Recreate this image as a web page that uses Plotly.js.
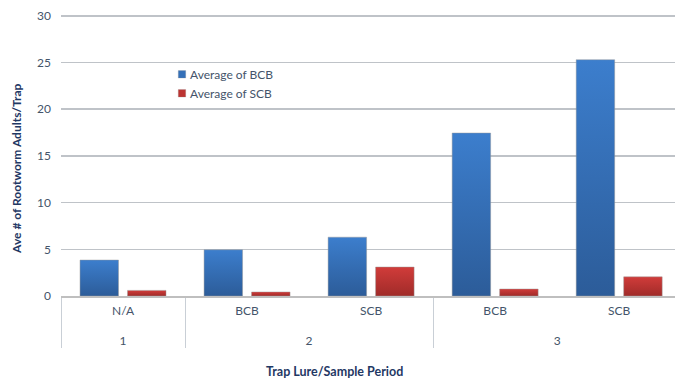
<!DOCTYPE html>
<html>
<head>
<meta charset="utf-8">
<script src="https://cdn.plot.ly/plotly-3.0.1.min.js"></script>
<style>
  html, body { margin: 0; padding: 0; background: #ffffff; }
  #chart { width: 675px; height: 379px; }
</style>
</head>
<body>
<div id="chart"></div>
<script>
// Sample period (outer level) and trap lure (inner level) for each category
const samplePeriods = ["1", "2", "2", "3", "3"];
const trapLures = ["N/A", "BCB", "SCB", "BCB", "SCB"];

// Average rootworm adults per trap
const avgBCB = [3.85, 4.95, 6.3, 17.45, 25.3];
const avgSCB = [0.6, 0.43, 3.1, 0.75, 2.05];

const yTicks = [0, 5, 10, 15, 20, 25, 30];

const textColor = "#44546A";
const titleColor = "#1F3864";
const fontFamily = "Lato, 'Open Sans', sans-serif";

// The outer level sits one line lower than the lure labels
const x = [samplePeriods.map(s => "<br>" + s), trapLures];

const traces = [
  {
    type: "bar",
    name: "Average of BCB",
    x: x,
    y: avgBCB,
    marker: { color: "#3470B8", line: { color: "rgba(150,150,150,0.45)", width: 1 } },
    hoverinfo: "skip"
  },
  {
    type: "bar",
    name: "Average of SCB",
    x: x,
    y: avgSCB,
    marker: { color: "#BC3432", line: { color: "rgba(150,150,150,0.45)", width: 1 } },
    hoverinfo: "skip"
  }
];

// y range runs a little past 30 so the top gridline is kept
const yMax = 30.3;
const plotH = 280 * yMax / 30;

const layout = {
  width: 675,
  height: 379,
  margin: { l: 61, r: 0, t: 379 - 83 - plotH, b: 83 },
  paper_bgcolor: "#ffffff",
  plot_bgcolor: "#ffffff",
  font: { family: fontFamily, size: 12, color: textColor },
  barmode: "group",
  bargap: 0.234,
  bargroupgap: 0.19,
  showlegend: true,
  legend: {
    x: (150 - 61) / 614,
    y: (296 - 60) / plotH,
    xanchor: "left",
    yanchor: "top",
    bgcolor: "rgba(0,0,0,0)",
    font: { family: fontFamily, size: 12, color: textColor },
    itemwidth: 30,
    tracegroupgap: 0
  },
  xaxis: {
    type: "multicategory",
    range: [-0.5, 4.45],
    showline: true,
    linecolor: "#BFBFBF",
    linewidth: 1.5,
    showgrid: false,
    zeroline: false,
    ticks: "",
    ticklabelstandoff: 3,
    showdividers: true,
    dividercolor: "#C9CFD6",
    dividerwidth: 1,
    tickfont: { family: fontFamily, size: 12, color: textColor }
  },
  yaxis: {
    range: [0, yMax],
    tickvals: yTicks,
    ticktext: yTicks.map(String),
    showgrid: true,
    gridcolor: "#BFC3C8",
    gridwidth: 1.5,
    zeroline: false,
    showline: false,
    ticks: "",
    ticklabelstandoff: 9,
    tickfont: { family: fontFamily, size: 12, color: textColor }
  },
  annotations: [
    {
      text: "<b>Trap Lure/Sample Period</b>",
      xref: "paper", yref: "paper",
      x: (334 - 61) / 614, y: -(371 - 296) / plotH,
      xanchor: "center", yanchor: "middle",
      showarrow: false,
      font: { family: fontFamily, size: 12.5, color: titleColor }
    },
    {
      text: "<b>Ave # of Rootworm Adults/Trap</b>",
      xref: "paper", yref: "paper",
      x: -(61 - 17) / 614, y: (296 - 169) / plotH,
      xanchor: "center", yanchor: "middle",
      textangle: -90,
      showarrow: false,
      font: { family: fontFamily, size: 12, color: titleColor }
    }
  ]
};

// Vertical gradients for the bar fills: lighter at the top, darker at the base
function addGradients(gd) {
  const svg = gd.querySelector(".main-svg");
  const ns = "http://www.w3.org/2000/svg";
  let defs = svg.querySelector("defs");
  if (!defs) { defs = document.createElementNS(ns, "defs"); svg.insertBefore(defs, svg.firstChild); }
  const grads = [
    { id: "barGradBlue", top: "#3C7ECD", bottom: "#2C5C99" },
    { id: "barGradRed", top: "#D13C3A", bottom: "#A02B29" }
  ];
  grads.forEach(g => {
    const lg = document.createElementNS(ns, "linearGradient");
    lg.setAttribute("id", g.id);
    lg.setAttribute("x1", "0"); lg.setAttribute("y1", "0");
    lg.setAttribute("x2", "0"); lg.setAttribute("y2", "1");
    const s1 = document.createElementNS(ns, "stop");
    s1.setAttribute("offset", "0"); s1.setAttribute("stop-color", g.top);
    const s2 = document.createElementNS(ns, "stop");
    s2.setAttribute("offset", "1"); s2.setAttribute("stop-color", g.bottom);
    lg.appendChild(s1); lg.appendChild(s2);
    defs.appendChild(lg);
  });
  const traceGroups = gd.querySelectorAll(".barlayer .trace");
  traceGroups.forEach((tg, i) => {
    const id = i === 0 ? "barGradBlue" : "barGradRed";
    tg.querySelectorAll("path").forEach(p => { p.style.fill = "url(#" + id + ")"; });
  });
  // Smaller legend swatches sitting close to their labels
  gd.querySelectorAll(".legend .legendpoints path").forEach(p => {
    p.setAttribute("transform", "translate(32,0) scale(0.62)");
  });
}

Plotly.newPlot("chart", traces, layout, { staticPlot: true, displayModeBar: false })
  .then(addGradients);
</script>
</body>
</html>
